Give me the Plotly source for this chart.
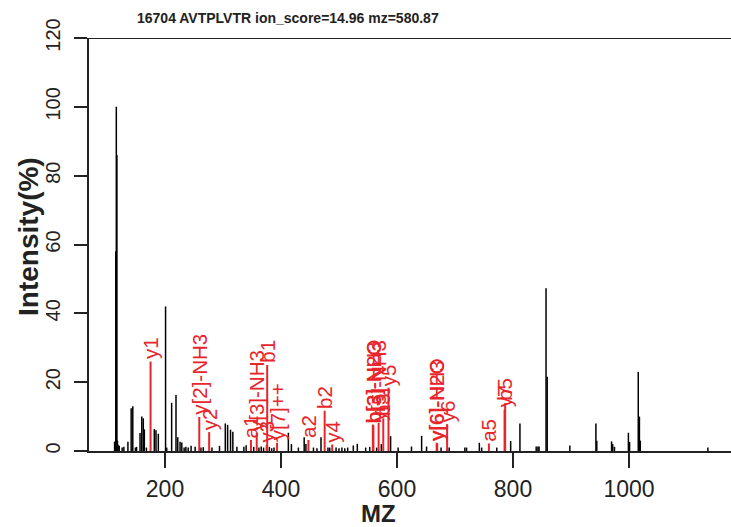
import plotly.graph_objects as go

# ---- data ----
black_mz = [113.1, 114.1, 115.1, 116.1, 117.1, 118.1, 119.1, 121.1,
            126.1, 129.1, 136.1, 141.7, 144.5, 149.0, 151.0, 157.0, 160.0, 162.6, 164.4,
            168.0, 181.6, 184.5, 188.5, 201.0, 203.0, 211.5, 219.0, 222.0, 226.0, 229.0,
            233.0, 236.0, 240.0, 245.0, 252.0, 262.0, 266.0, 281.0, 294.0,
            304.0, 308.0, 313.0, 317.0, 324.0, 336.0, 340.0, 353.0, 362.0, 366.0, 370.0,
            380.0, 384.0, 388.0, 412.7, 418.0, 430.0, 440.0, 443.0, 456.0, 462.0, 469.0,
            481.0, 484.0, 495.0, 500.0, 505.0, 510.0, 515.0, 524.7, 531.6, 546.0, 553.0,
            565.0, 573.0, 589.0, 602.0, 625.0, 642.5, 651.0, 676.0, 690.0, 717.0, 720.0,
            742.0, 746.0, 772.0, 796.0, 812.0, 840.0, 843.0, 845.0, 857.0, 859.0, 898.0,
            943.0, 944.5, 970.0, 972.0, 975.0, 999.0, 1001.0, 1016.0, 1018.0, 1019.5, 1136.0]
black_int = [2.6, 2.8, 58.0, 100.0, 86.0, 3.0, 1.8, 1.5,
             1.0, 1.2, 2.7, 12.4, 13.0, 1.0, 1.2, 5.2, 10.0, 9.5, 6.3,
             1.0, 6.4, 6.0, 5.0, 42.0, 1.0, 14.0, 16.3, 4.0, 2.7, 2.5,
             1.0, 1.2, 1.0, 1.5, 1.2, 1.0, 1.1, 1.0, 1.5,
             8.0, 7.6, 6.2, 5.6, 1.2, 1.2, 1.7, 1.2, 1.0, 1.3, 1.0,
             1.2, 0.8, 1.0, 5.3, 2.0, 1.0, 4.0, 2.0, 1.0, 0.8, 4.0,
             1.0, 1.0, 1.0, 0.8, 1.0, 0.8, 1.0, 1.6, 2.1, 1.0, 1.2,
             1.0, 2.0, 4.3, 1.0, 1.3, 4.4, 1.3, 1.0, 1.0, 1.0, 1.0,
             2.4, 1.0, 1.0, 2.9, 8.0, 1.3, 1.3, 1.3, 47.3, 21.6, 1.6,
             8.0, 3.0, 2.8, 2.0, 1.2, 5.3, 2.6, 23.0, 10.0, 3.0, 1.0]

red_mz = [175.12, 259.14, 276.17, 348.25, 358.21, 375.24, 376.25, 393.25,
          447.32, 475.32, 488.32, 558.36, 559.34, 568.34, 576.37, 585.37,
          668.41, 669.39, 686.42, 758.51, 785.49, 786.50]
red_int = [26.0, 9.9, 5.5, 3.2, 5.3, 1.8, 25.0, 2.4,
           3.2, 11.7, 1.9, 7.7, 7.5, 8.2, 9.5, 18.4,
           2.4, 2.2, 7.8, 2.2, 12.0, 13.9]
red_labels = ["y1", "y[2]-NH3", "y2", "a1", "y[3]-NH3", "y3", "b1", "y[7]++",
              "a2", "b2", "y4", "b[3]-H2O", "b[3]-NH3", "y[5]-NH3", "b3", "y5",
              "y[6]-H2O", "y[6]-NH3", "y6", "a5", "y7", "b5"]

title_text = "16704 AVTPLVTR ion_score=14.96 mz=580.87"
x_ticks = [200, 400, 600, 800, 1000]
y_ticks = [0, 20, 40, 60, 80, 100, 120]

RED = "#e8252b"
FONT = "Liberation Sans, Arial, Helvetica, sans-serif"


def sticks(xs, ys):
    lx, ly = [], []
    for x, y in zip(xs, ys):
        lx += [x, x, None]
        ly += [0, y, None]
    return lx, ly


fig = go.Figure()
bx, by = sticks(black_mz, black_int)
fig.add_trace(go.Scatter(x=bx, y=by, mode="lines", line=dict(color="black", width=1.5),
                         hoverinfo="skip", showlegend=False))
rx, ry = sticks(red_mz, red_int)
fig.add_trace(go.Scatter(x=rx, y=ry, mode="lines", line=dict(color=RED, width=2),
                         hoverinfo="skip", showlegend=False))

for x, y, t in zip(red_mz, red_int, red_labels):
    fig.add_annotation(x=x, y=y, text=t, showarrow=False, textangle=-90,
                       xanchor="center", yanchor="bottom", yshift=0,
                       font=dict(family=FONT, size=20.5, color=RED))

# top border line at y = 120
fig.add_shape(type="line", xref="paper", yref="y", x0=0, x1=1, y0=120, y1=120,
              line=dict(color="#222", width=2))

L, R, T, B = 89, 0, 38, 76
W, H = 731, 527
pw, ph = W - L - R, H - T - B

fig.add_annotation(xref="paper", yref="paper", x=(288 - L) / pw, y=(H - B - 18) / ph,
                   text="<b>" + title_text + "</b>", showarrow=False,
                   xanchor="center", yanchor="middle",
                   font=dict(family=FONT, size=14, color="#222"))
fig.add_annotation(xref="paper", yref="paper", x=(378 - L) / pw, y=(H - B - 513) / ph,
                   text="<b>MZ</b>", showarrow=False, xanchor="center", yanchor="middle",
                   font=dict(family=FONT, size=24, color="#222"))
fig.add_annotation(xref="paper", yref="paper", x=(28 - L) / pw, y=(H - B - 237) / ph,
                   text="<b>Intensity(%)</b>", showarrow=False, textangle=-90,
                   xanchor="center", yanchor="middle",
                   font=dict(family=FONT, size=28, color="#222"))

fig.update_layout(
    width=W, height=H, margin=dict(l=L, r=R, t=T, b=B, pad=0),
    plot_bgcolor="white", paper_bgcolor="white", showlegend=False,
    xaxis=dict(range=[69, 1175.9], tickvals=x_ticks, ticks="outside", ticklen=15,
               tickwidth=1.5, tickcolor="#222", showline=True, linecolor="#222", linewidth=2,
               showgrid=False, zeroline=False,
               tickfont=dict(family=FONT, size=23, color="#222"),
               ticklabelstandoff=1),
    yaxis=dict(range=[0, 120], tickvals=y_ticks, ticks="outside", ticklen=13,
               tickwidth=1.5, tickcolor="#222", showline=True, linecolor="#222", linewidth=2,
               showgrid=False, zeroline=False, tickangle=-90,
               tickfont=dict(family=FONT, size=20, color="#222"),
               ticklabelstandoff=6),
)

fig.write_html("out.html", config={"displayModeBar": False},
               post_script="document.body.style.margin='0';document.body.style.overflow='hidden';")
